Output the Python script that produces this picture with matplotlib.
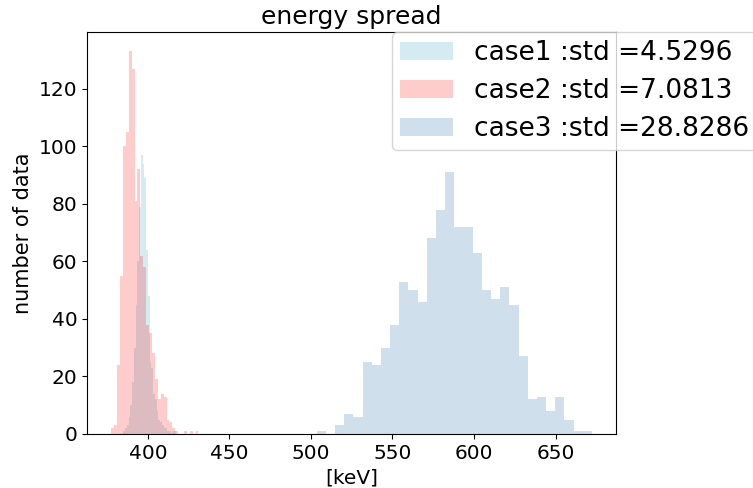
import numpy as np
import matplotlib
matplotlib.use("Agg")
import matplotlib.pyplot as plt

# ---- data ----
labels = ["case1 :std =4.5296", "case2 :std =7.0813", "case3 :std =28.8286"]

case1_range = (385.0, 417.1)
case1_counts = [1, 2, 3, 6, 10, 18, 30, 45, 60, 79,
                97, 94, 89, 64, 48, 25, 23, 14, 12, 8,
                5, 4, 3, 2, 2, 1, 1, 0, 1, 1]

case2_range = (377.6, 431.0)
case2_counts = [2, 3, 24, 55, 100, 105, 133, 127, 81, 92,
                62, 58, 38, 35, 28, 19, 12, 14, 13, 5,
                4, 2, 1, 0, 0, 1, 0, 1, 0, 1]

case3_range = (503.5, 672.3)
case3_counts = [1, 0, 3, 7, 6, 25, 24, 30, 38, 53,
                50, 46, 68, 78, 91, 72, 72, 63, 50, 47,
                51, 45, 27, 12, 13, 8, 13, 5, 1, 1]

colors = ["lightblue", "red", "steelblue"]
alphas = [0.5, 0.2, 0.25]

xticks = [400, 450, 500, 550, 600, 650]
yticks = [0, 20, 40, 60, 80, 100, 120]

fig = plt.figure(figsize=(7.53, 4.88), dpi=100)
ax = fig.add_axes([0.116, 0.1107, 0.702, 0.823])

for rng, counts, c, a, lab in zip(
        [case1_range, case2_range, case3_range],
        [case1_counts, case2_counts, case3_counts],
        colors, alphas, labels):
    counts = np.asarray(counts, dtype=float)
    edges = np.linspace(rng[0], rng[1], len(counts) + 1)
    ax.hist(edges[:-1], bins=edges, weights=counts, color=c, alpha=a, label=lab)

ax.set_xticks(xticks)
ax.set_yticks(yticks)
ax.tick_params(labelsize=14.5)
ax.set_xlabel("[keV]", fontsize=14.5)
ax.set_ylabel("number of data", fontsize=15)
ax.set_title("energy spread", fontsize=18)

ax.legend(loc="upper left", bbox_to_anchor=(0.576, 1.0), borderaxespad=0,
          fontsize=19, labelspacing=0.45, borderpad=0.3)

fig.savefig("out.png", dpi=100)
